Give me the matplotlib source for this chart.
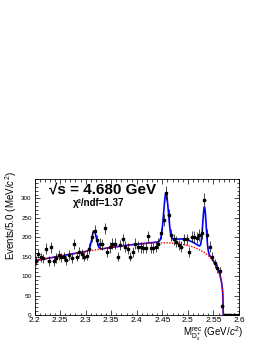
import numpy as np
import matplotlib
matplotlib.use("Agg")
import matplotlib.pyplot as plt
from matplotlib.ticker import MultipleLocator

plt.rcParams['font.family'] = ['Liberation Sans', 'DejaVu Sans']
plt.rcParams['mathtext.fontset'] = 'custom'
plt.rcParams['mathtext.rm'] = 'Liberation Sans'
plt.rcParams['mathtext.it'] = 'Liberation Sans:italic'
plt.rcParams['mathtext.bf'] = 'Liberation Sans:bold'

# ---- data (events per 5 MeV bin, 2.20 - 2.60 GeV) ----
bin_low = 2.20
bin_width = 0.005
counts = [140, 158, 148, 146, 171, 139, 174, 139, 147, 154,
          148, 150, 141, 154, 146, 183, 150, 162, 157, 150,
          153, 171, 201, 217, 193, 184, 182, 223, 163, 174,
          184, 184, 150, 180, 195, 176, 171, 150, 163, 184,
          176, 174, 173, 173, 203, 173, 173, 176, 184, 210,
          244, 315, 257, 206, 195, 189, 180, 176, 195, 195,
          163, 201, 201, 199, 206, 210, 297, 207, 176, 150,
          133, 120, 113, 24, 0, 0, 0, 0, 0, 0]

# ---- fit model parameters ----
bkg_threshold = 2.569
bkg_power = 0.3
bkg_slope = 2.5
bkg_norm = 474.0
peak_centers = [2.3165, 2.4572, 2.5325]
peak_sigmas = [0.0045, 0.0045, 0.0033]
peak_amps = [50.0, 123.0, 112.0]
broad_center = 2.495
broad_sigma = 0.028
broad_amp = 14.0

x_ticks = [2.2, 2.25, 2.3, 2.35, 2.4, 2.45, 2.5, 2.55, 2.6]
x_tick_labels = ["2.2", "2.25", "2.3", "2.35", "2.4", "2.45", "2.5", "2.55", "2.6"]
y_ticks = [0, 50, 100, 150, 200, 250, 300]


def background(x):
    d = np.clip(bkg_threshold - x, 0, None)
    return bkg_norm * d ** bkg_power * np.exp(-bkg_slope * d)


def total(x):
    y = background(x)
    thr = (x < bkg_threshold).astype(float)
    for c, s, a in zip(peak_centers, peak_sigmas, peak_amps):
        y = y + a * np.exp(-0.5 * ((x - c) / s) ** 2) * thr
    y = y + broad_amp * np.exp(-0.5 * ((x - broad_center) / broad_sigma) ** 2) * thr
    return y


counts = np.array(counts, dtype=float)
centers = bin_low + bin_width * (np.arange(len(counts)) + 0.5)
errs = np.sqrt(counts)

fig = plt.figure(figsize=(2.66, 3.44), dpi=100)
ax = fig.add_axes([0.1297, 0.0843, 0.7688, 0.3953])

xx = np.linspace(2.2, 2.6, 4001)
ax.plot(xx, total(xx), color='#0000ff', lw=1.2, zorder=2)
ax.plot(xx, background(xx), color='#ff0000', lw=1.0, ls=(0, (1, 1)), zorder=3)

ax.errorbar(centers, counts, yerr=errs, xerr=bin_width / 2, fmt='s', ms=1.8,
            color='black', ecolor='black', elinewidth=0.5, capsize=0, zorder=4)

ax.set_xlim(2.2, 2.6)
ax.set_ylim(0, 350)
ax.set_xticks(x_ticks)
ax.set_xticklabels(x_tick_labels)
ax.set_yticks(y_ticks)
ax.xaxis.set_minor_locator(MultipleLocator(0.01))
ax.yaxis.set_minor_locator(MultipleLocator(10))
ax.tick_params(which='both', direction='in', top=True, right=True, width=0.5)
ax.tick_params(which='major', length=3.5)
ax.tick_params(which='minor', length=1.8)
ax.tick_params(axis='x', labelsize=6, pad=1.5)
ax.tick_params(axis='y', labelsize=4.5, pad=2)
for sp in ax.spines.values():
    sp.set_linewidth(0.6)

ax.text(0.071, 0.926, "√s = 4.680 GeV", transform=ax.transAxes,
        fontsize=11, fontweight='bold', ha='left', va='center')
ax.text(0.188, 0.82, "χ²/ndf=1.37", transform=ax.transAxes,
        fontsize=7, fontweight='bold', ha='left', va='center')

fig.text(0.04, 0.503, r"Events/5.0 (MeV/$c^2$)", rotation=90,
         ha='center', va='top', fontsize=7)
fig.text(0.913, 0.002, r"$\mathrm{M}^{\rm rec}_{\mathrm{D}_{s}^{+}}$ (GeV/$c^2$)",
         ha='right', va='bottom', fontsize=7)

fig.savefig("out.png", dpi=100)
